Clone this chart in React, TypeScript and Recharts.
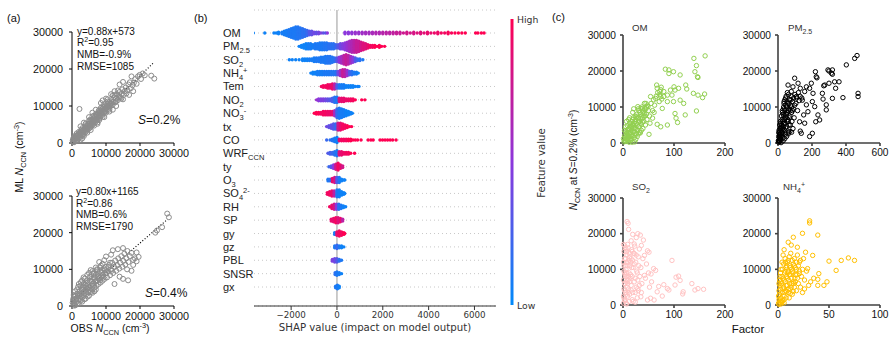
import React from 'react'
import { ScatterChart, Scatter, XAxis, YAxis, CartesianGrid, ReferenceLine } from 'recharts'

const ARIAL = '"Liberation Sans", Arial, sans-serif'
const DEJAVU = '"DejaVu Sans", sans-serif'

// ---------- (a) ML vs OBS N_CCN ----------
const statsS02 = ['y=0.88x+573', '0.95', 'NMB=-0.9%', 'RMSE=1085']
const statsS04 = ['y=0.80x+1165', '0.86', 'NMB=0.6%', 'RMSE=1790']
const fitS02: [number, number][] = [[0, 573], [24100, 21780]]
const fitS04: [number, number][] = [[0, 1165], [28000, 23565]]
const nccnTicks = [0, 10000, 20000, 30000]

const obsMlS02: [number, number][] = [
  [200, 600], [400, 300], [600, 900], [800, 1500], [900, 700], [1100, 1200], [1300, 1900], [1400, 800],
  [1600, 1500], [1800, 2300], [1900, 1200], [2100, 2000], [2300, 2800], [2400, 1600], [2600, 2400],
  [2800, 3100], [2900, 2000], [3100, 2700], [3300, 3600], [3400, 2300], [3600, 3200], [3800, 4100],
  [3900, 2900], [4100, 3700], [4300, 4600], [4400, 3300], [4600, 4200], [4800, 5100], [4900, 3800],
  [5100, 4700], [5300, 5600], [5400, 4200], [5600, 5100], [5800, 6100], [5900, 4700], [6100, 5600],
  [6300, 6600], [6400, 5200], [6600, 6100], [6800, 7100], [6900, 5700], [7100, 6500], [7300, 7600],
  [7400, 6100], [7600, 7000], [7800, 8100], [7900, 6600], [8100, 7500], [8300, 8600], [8400, 7100],
  [8600, 8000], [8800, 9100], [8900, 7600], [9100, 8400], [9300, 9600], [9400, 8100], [9600, 9000],
  [9800, 10000], [9900, 8600], [10200, 9400], [10400, 10500], [10600, 9200], [10800, 10000],
  [11000, 11000], [11300, 9900], [11500, 10600], [11700, 11600], [12000, 10400], [12200, 11200],
  [12400, 12300], [12700, 11000], [13000, 12000], [13200, 13200], [13500, 11600], [13800, 12700],
  [14000, 13800], [14300, 12300], [14600, 13200], [14800, 14500], [15200, 13000], [15500, 14000],
  [15800, 15000], [16000, 13400], [16300, 14300], [16600, 15800], [17000, 16400], [17300, 14800],
  [17800, 15600], [18200, 16300], [18600, 17300], [19000, 16000], [19400, 18000], [19900, 18400],
  [20300, 17300], [20800, 18800], [21400, 18300], [23300, 18200], [24200, 17400], [2200, 9200],
  [2500, 4500], [3500, 5500], [5000, 7000], [6000, 8200], [7000, 9000], [8500, 10800], [10000, 12000],
  [11500, 13200], [9000, 11500], [12500, 14000], [14000, 15800], [15000, 16500], [17500, 18000],
  [3000, 1200], [5500, 3500], [7500, 5200], [9500, 7000], [11000, 8500], [13000, 10000], [15000, 11800],
  [12000, 9000], [18000, 14000], [16800, 13000], [500, 1500], [1000, 2000], [1500, 600], [2000, 3000],
  [2500, 900], [3000, 4000], [3500, 1900], [4000, 5200], [4500, 2800], [5000, 6000], [5500, 4600],
  [6000, 7200], [6500, 4700], [7000, 7800], [7500, 5600], [8000, 8900], [8000, 6200], [8500, 9500],
  [9000, 7000], [9500, 10500], [10000, 8200], [10500, 11200], [11000, 9600], [12000, 12900],
  [13500, 14200], [14500, 12000],
]
const coreS02: [number, number][] = [
  [300, 1000], [700, 1200], [1200, 1600], [1700, 2100], [2200, 2400], [2700, 2900], [3200, 3300],
  [3700, 3700], [4200, 4200], [4700, 4600], [5200, 5200], [5700, 5500], [6200, 6000], [6700, 6500],
  [7200, 7000], [7700, 7400], [8200, 8000], [8700, 8400], [9200, 8900], [9700, 9300], [10200, 9800],
  [10700, 10200], [11200, 10500], [11700, 11000], [600, 200], [1400, 2600], [2000, 1500], [2800, 3600],
  [3300, 2500], [4000, 4800], [4600, 3600], [5300, 6300], [5800, 5000], [6500, 7400], [7000, 6200],
  [7800, 8600], [8300, 7200], [9000, 9900], [9500, 8400], [10500, 11800], [11000, 9000], [12500, 13000],
  [13000, 11200], [14000, 12500],
]

const obsMlS04: [number, number][] = [
  [200, 900], [400, 2000], [600, 500], [800, 1600], [1000, 2800], [1200, 1000], [1400, 2200], [1600, 3400],
  [1800, 1500], [2000, 2700], [2200, 4000], [2400, 1900], [2600, 3200], [2800, 4600], [3000, 2300],
  [3200, 3700], [3400, 5200], [3600, 2800], [3800, 4200], [4000, 5800], [4200, 3200], [4400, 4700],
  [4600, 6300], [4800, 3700], [5000, 5200], [5200, 6900], [5400, 4100], [5600, 5600], [5800, 7400],
  [6000, 4600], [6200, 6100], [6400, 7900], [6600, 5000], [6800, 6600], [7000, 8400], [7200, 5500],
  [7400, 7000], [7600, 8900], [7800, 6000], [8000, 7500], [8200, 9400], [8400, 6400], [8600, 8000],
  [8800, 9800], [9000, 6900], [9200, 8400], [9400, 10300], [9600, 7400], [9800, 8900], [10000, 10700],
  [10300, 7800], [10600, 9500], [10900, 11200], [11200, 8400], [11500, 10000], [11800, 11800],
  [12100, 9000], [12400, 10600], [12700, 12400], [13000, 9600], [13300, 11100], [13600, 13000],
  [13900, 10200], [14200, 11800], [14500, 13600], [14800, 10700], [15100, 12300], [15400, 14300],
  [15700, 11300], [16000, 13000], [16300, 15000], [16600, 12000], [17000, 13600], [17500, 14500],
  [18000, 12600], [18500, 13000], [19000, 14600], [19600, 13400], [15000, 7400], [16500, 7000],
  [12500, 6000], [18000, 11200], [17500, 9600], [16200, 10000], [14000, 8000], [19000, 12200],
  [24500, 20000], [25000, 20600], [26500, 21500], [28000, 25200], [28500, 24200], [2000, 6000],
  [3000, 7000], [4500, 8500], [5000, 9000], [6000, 9500], [7000, 10500], [8000, 12000], [9000, 11500],
  [10000, 13500], [11500, 14000], [12000, 15200], [13500, 15500], [15000, 15800], [5500, 9800],
  [3800, 7500], [500, 3000], [1500, 4500], [2500, 5500], [1000, 200], [2000, 700], [3000, 1200],
  [4000, 2000], [5000, 2800], [6000, 3600], [7000, 4500], [3500, 6200], [6500, 8800], [7500, 9800],
  [8500, 11000], [9500, 12500],
]
const coreS04: [number, number][] = [
  [300, 1500], [700, 2500], [1200, 1800], [1700, 3000], [2200, 3200], [2700, 2600], [3200, 4500],
  [3700, 3600], [4200, 5500], [4700, 5000], [5200, 4400], [5700, 6600], [6200, 5600], [6700, 7500],
  [7200, 6800], [7700, 8000], [8200, 7000], [8700, 9000], [9200, 7800], [9700, 9800], [10200, 9000],
  [10700, 10600], [11200, 11800], [11700, 9600], [900, 4000], [1800, 5200], [2600, 6500], [3400, 7800],
  [4300, 6800], [5300, 8000], [6300, 9000], [7300, 10000], [8300, 10500], [600, 100], [1600, 600],
  [2600, 1500], [3600, 1800], [4600, 2600], [5600, 3800], [6600, 4000],
]

// ---------- (b) SHAP summary ----------
const featureBase = ['OM', 'PM', 'SO', 'NH', 'Tem', 'NO', 'NO', 'tx', 'CO', 'WRF', 'ty', 'O', 'SO', 'RH', 'SP', 'gy', 'gz', 'PBL', 'SNSR', 'gx']
const featureSub = ['', '2.5', '2', '4', '', '2', '3', '', '', 'CCN', '', '3', '4', '', '', '', '', '', '', '']
const featureSup = ['', '', '', '+', '', '', '-', '', '', '', '', '', '2-', '', '', '', '', '', '', '']
const rowTicks = [0, 1, 2, 3, 4, 5, 6, 7, 8, 9, 10, 11, 12, 13, 14, 15, 16, 17, 18, 19]
const shapTicks = [-2000, 0, 2000, 4000, 6000]

// [shap value, dot count stacked, feature value 0..1]
const shapOM: [number, number, number][] = [
  [-3650, 1, 0.05], [-3150, 1, 0.05], [-2750, 1, 0.05], [-2650, 1, 0.05], [-2550, 2, 0.05], [-2400, 2, 0.08],
  [-2300, 3, 0.08], [-2200, 4, 0.08], [-2100, 5, 0.1], [-2000, 6, 0.1], [-1900, 7, 0.1], [-1800, 8, 0.1],
  [-1700, 8, 0.12], [-1600, 7, 0.12], [-1500, 6, 0.15], [-1400, 5, 0.15], [-1300, 4, 0.2], [-1200, 3, 0.3],
  [-1100, 3, 0.35], [-1000, 2, 0.4], [-900, 2, 0.35], [-800, 2, 0.4], [-700, 1, 0.45], [-600, 1, 0.35],
  [-500, 1, 0.3], [-420, 1, 0.5], [350, 2, 0.5], [500, 2, 0.5], [650, 2, 0.52], [800, 2, 0.55],
  [950, 2, 0.55], [1100, 2, 0.58], [1250, 2, 0.6], [1400, 2, 0.6], [1550, 2, 0.62], [1700, 2, 0.65],
  [1850, 2, 0.65], [2000, 2, 0.68], [2150, 2, 0.7], [2300, 2, 0.7], [2450, 2, 0.72], [2600, 2, 0.75],
  [2750, 2, 0.75], [2900, 1, 0.78], [3050, 2, 0.8], [3200, 1, 0.8], [3350, 2, 0.82], [3500, 1, 0.85],
  [3650, 2, 0.85], [3800, 1, 0.88], [3950, 2, 0.9], [4100, 1, 0.9], [4250, 1, 0.92], [4400, 2, 0.92],
  [4550, 1, 0.95], [4700, 1, 0.95], [4850, 2, 0.97], [5000, 1, 0.97], [5150, 1, 1], [5300, 1, 1],
  [5450, 1, 1], [5600, 1, 1], [6050, 1, 1], [6150, 1, 1], [6300, 1, 1], [6420, 1, 1],
]
const shapPM25: [number, number, number][] = [
  [-1650, 1, 0.05], [-1550, 2, 0.05], [-1450, 3, 0.05], [-1350, 4, 0.05], [-1250, 4, 0.08], [-1150, 4, 0.08],
  [-1050, 3, 0.08], [-950, 4, 0.1], [-850, 4, 0.1], [-750, 5, 0.1], [-650, 5, 0.1], [-550, 5, 0.12],
  [-450, 5, 0.12], [-350, 4, 0.15], [-250, 4, 0.15], [-150, 4, 0.15], [-50, 3, 0.2], [50, 3, 0.3],
  [150, 4, 0.4], [250, 4, 0.45], [350, 5, 0.5], [450, 6, 0.55], [550, 7, 0.6], [650, 8, 0.65],
  [750, 8, 0.7], [850, 8, 0.75], [950, 7, 0.75], [1050, 6, 0.8], [1150, 5, 0.85], [1250, 4, 0.85],
  [1350, 3, 0.9], [1450, 2, 0.95], [1550, 2, 0.95], [1650, 2, 1], [1750, 1, 1], [1850, 2, 1],
  [1950, 1, 1], [2080, 1, 1],
]
const shapSO2: [number, number, number][] = [
  [-2080, 1, 0.05], [-1950, 1, 0.05], [-1800, 1, 0.05], [-1650, 1, 0.05], [-1500, 2, 0.05], [-1400, 2, 0.05],
  [-1300, 2, 0.05], [-1200, 2, 0.08], [-1100, 2, 0.08], [-1000, 3, 0.08], [-900, 3, 0.1], [-800, 3, 0.1],
  [-700, 4, 0.1], [-600, 4, 0.1], [-500, 5, 0.1], [-400, 5, 0.12], [-300, 5, 0.12], [-200, 4, 0.12],
  [-100, 3, 0.15], [0, 3, 0.3], [100, 4, 0.5], [200, 5, 0.6], [300, 6, 0.7], [400, 7, 0.75],
  [500, 6, 0.7], [600, 5, 0.6], [700, 4, 0.5], [800, 3, 0.3], [900, 2, 0.2], [1000, 2, 0.15], [1130, 1, 0.1],
]
const shapNH4: [number, number, number][] = [
  [-1140, 1, 0.05], [-1050, 2, 0.05], [-950, 2, 0.05], [-850, 3, 0.08], [-750, 3, 0.08], [-650, 3, 0.08],
  [-550, 3, 0.1], [-450, 3, 0.1], [-350, 3, 0.1], [-250, 3, 0.12], [-150, 3, 0.12], [-50, 3, 0.15],
  [50, 3, 0.4], [150, 4, 0.6], [250, 5, 0.75], [350, 5, 0.7], [450, 4, 0.55], [550, 3, 0.3],
  [650, 3, 0.15], [750, 2, 0.1], [850, 2, 0.08], [930, 1, 0.05],
]
const shapTem: [number, number, number][] = [
  [-680, 1, 0.95], [-600, 2, 0.95], [-500, 2, 0.95], [-400, 3, 0.95], [-300, 3, 0.92], [-200, 4, 0.9],
  [-100, 4, 0.7], [0, 3, 0.3], [100, 3, 0.1], [200, 3, 0.08], [300, 3, 0.08], [400, 2, 0.05],
  [500, 2, 0.05], [600, 2, 0.05], [700, 2, 0.05], [800, 1, 0.05], [900, 1, 0.05], [960, 1, 0.05],
]
const shapNO2: [number, number, number][] = [
  [-890, 1, 0.55], [-800, 2, 0.5], [-700, 2, 0.45], [-600, 2, 0.45], [-500, 2, 0.4], [-400, 2, 0.35],
  [-300, 2, 0.3], [-200, 3, 0.25], [-100, 4, 0.15], [0, 4, 0.1], [100, 3, 0.85], [200, 3, 0.9],
  [300, 3, 0.9], [400, 2, 0.92], [500, 2, 0.92], [600, 2, 0.95], [700, 2, 0.95], [800, 1, 1],
  [1080, 1, 1], [1220, 1, 1],
]
const shapNO3: [number, number, number][] = [
  [-990, 1, 1], [-900, 2, 1], [-800, 2, 1], [-700, 2, 0.95], [-600, 3, 0.95], [-500, 3, 0.95],
  [-400, 3, 0.92], [-300, 3, 0.92], [-200, 3, 0.9], [-100, 4, 0.6], [0, 6, 0.2], [100, 7, 0.1],
  [200, 6, 0.08], [300, 5, 0.08], [400, 4, 0.05], [500, 3, 0.05], [600, 2, 0.05], [670, 1, 0.05],
]
const shapTx: [number, number, number][] = [
  [-450, 1, 0.4], [-350, 2, 0.35], [-250, 3, 0.35], [-150, 4, 0.3], [-50, 4, 0.2], [50, 5, 0.8],
  [150, 5, 0.9], [250, 4, 0.95], [350, 3, 0.95], [450, 2, 1], [550, 1, 1], [640, 1, 1],
]
const shapCO: [number, number, number][] = [
  [-450, 1, 0.2], [-300, 1, 0.15], [-200, 2, 0.12], [-100, 3, 0.1], [0, 4, 0.05], [100, 2, 0.9],
  [200, 2, 0.95], [300, 2, 0.95], [400, 2, 0.95], [500, 2, 1], [600, 2, 1], [700, 1, 1], [800, 1, 1],
  [900, 1, 1], [1050, 1, 1], [1360, 1, 1], [1480, 1, 1], [1580, 1, 1], [1880, 1, 1], [1990, 1, 1],
  [2100, 1, 1], [2210, 1, 1], [2320, 1, 1], [2430, 1, 1], [2580, 1, 1],
]
const shapWRF: [number, number, number][] = [
  [-390, 1, 0.3], [-300, 2, 0.25], [-200, 2, 0.2], [-100, 3, 0.15], [0, 4, 0.1], [100, 3, 0.85],
  [200, 3, 0.9], [300, 2, 0.92], [400, 2, 0.95], [500, 2, 0.95], [600, 1, 1], [770, 1, 1],
]
const shapTy: [number, number, number][] = [
  [-350, 1, 0.2], [-250, 2, 0.3], [-150, 3, 0.5], [-50, 4, 0.8], [50, 5, 0.95], [150, 3, 0.9], [250, 2, 0.8],
]
const shapO3: [number, number, number][] = [
  [-390, 2, 0.1], [-300, 2, 0.15], [-200, 3, 0.9], [-100, 4, 0.8], [0, 4, 0.3], [100, 4, 0.1],
  [200, 2, 0.05], [300, 1, 0.05], [340, 1, 0.05],
]
const shapSO4: [number, number, number][] = [
  [-420, 2, 0.95], [-320, 3, 0.95], [-220, 4, 0.9], [-120, 4, 0.7], [0, 5, 0.1], [100, 5, 0.05],
  [200, 3, 0.05], [300, 2, 0.05], [340, 1, 0.05],
]
const shapRH: [number, number, number][] = [
  [-320, 1, 0.95], [-220, 3, 0.9], [-120, 4, 0.8], [-20, 4, 0.5], [80, 4, 0.15], [180, 3, 0.1],
  [280, 2, 0.05], [380, 1, 0.05],
]
const shapSP: [number, number, number][] = [
  [-250, 2, 0.9], [-150, 3, 0.9], [-50, 4, 0.95], [50, 4, 0.85], [150, 3, 0.9], [250, 2, 0.7],
]
const shapGy: [number, number, number][] = [
  [-100, 2, 0.1], [0, 3, 0.9], [100, 4, 0.95], [200, 3, 0.95], [300, 2, 1], [340, 1, 1],
]
const shapGz: [number, number, number][] = [
  [-100, 2, 0.1], [0, 3, 0.2], [100, 2, 0.1], [200, 2, 0.05], [300, 1, 0.05],
]
const shapPBL: [number, number, number][] = [
  [-200, 2, 0.45], [-100, 3, 0.4], [0, 3, 0.3], [100, 2, 0.15], [200, 1, 0.1],
]
const shapSNSR: [number, number, number][] = [[-80, 2, 0.15], [0, 3, 0.1], [100, 2, 0.08], [200, 1, 0.05]]
const shapGx: [number, number, number][] = [[-60, 2, 0.1], [20, 3, 0.1], [100, 2, 0.05]]

const shapRows = [
  shapOM, shapPM25, shapSO2, shapNH4, shapTem, shapNO2, shapNO3, shapTx, shapCO, shapWRF,
  shapTy, shapO3, shapSO4, shapRH, shapSP, shapGy, shapGz, shapPBL, shapSNSR, shapGx,
]

// ---------- (c) N_CCN vs factors ----------
const omPts: [number, number][] = [
  [139, 23500], [161, 24200], [144, 21500], [141, 19800], [146, 18400], [147, 18200], [83, 20500],
  [90, 20300], [99, 19800], [90, 19300], [112, 18900], [100, 15600], [123, 16100], [125, 15000],
  [109, 15200], [138, 13800], [147, 13300], [160, 13600], [156, 12600], [144, 8900], [122, 7800],
  [107, 5700], [104, 6900], [87, 5000], [67, 5200], [74, 4500], [51, 2400], [66, 16100], [67, 15200],
  [72, 14300], [74, 12900], [76, 12200], [71, 11500], [80, 14300], [80, 12900], [93, 14700],
  [102, 14700], [96, 13300], [87, 13300], [87, 11500], [99, 11500], [112, 11900], [119, 11000],
  [102, 8200], [77, 9600], [61, 8500], [58, 6900], [64, 12400], [54, 12900], [49, 10100], [45, 11000],
  [35, 9600], [29, 10100], [26, 7300], [19, 5000], [2, 300], [4, 800], [5, 1500], [6, 400], [8, 2200],
  [8, 1000], [10, 3000], [10, 600], [12, 1800], [12, 4000], [14, 2600], [14, 1200], [15, 5000],
  [16, 3400], [17, 6000], [18, 2000], [18, 4500], [20, 3000], [20, 7000], [22, 5500], [22, 1500],
  [24, 4000], [25, 6500], [26, 2500], [27, 8000], [28, 5000], [29, 3500], [30, 7000], [31, 9000],
  [32, 4500], [33, 6000], [34, 2800], [35, 8000], [36, 5200], [37, 10000], [38, 7000], [39, 4000],
  [40, 9000], [41, 6000], [42, 11000], [43, 7500], [44, 5000], [45, 9500], [46, 8000], [47, 6500],
  [48, 10500], [50, 9000], [3, 2000], [6, 3200], [9, 4800], [11, 6500], [13, 7000], [15, 800],
  [19, 8500], [21, 9500], [23, 300], [25, 1000], [28, 1800], [30, 2500], [33, 3000], [36, 3500],
  [38, 9500], [12, 200], [18, 200], [7, 6000], [52, 7500], [55, 11000], [58, 9000], [60, 12000],
  [62, 10500], [65, 13000], [68, 14000], [72, 13500], [74, 14800], [75, 15500], [53, 5500],
]
const omCore: [number, number][] = [
  [1, 1200], [3, 3500], [5, 4500], [7, 2800], [9, 1500], [11, 3800], [13, 5500], [15, 3000], [17, 4500],
  [19, 6500], [21, 4000], [23, 6000], [24, 7500], [26, 5500], [28, 7000], [30, 4500], [31, 6000],
  [33, 8500], [35, 5500], [37, 7500], [39, 8500], [41, 7500], [43, 9500], [3, 700], [6, 1800], [9, 3500],
  [12, 2800], [16, 1800], [20, 5000], [24, 2500], [27, 3800], [30, 9500], [34, 6800], [38, 5800],
  [42, 8200], [46, 10000], [11, 1000], [14, 4500], [17, 1200], [22, 3200],
]
const pm25Pts: [number, number][] = [
  [451, 23500], [465, 24300], [402, 21700], [320, 20300], [300, 20000], [314, 19400], [320, 19100],
  [294, 20300], [220, 19800], [225, 18400], [229, 18100], [333, 17000], [359, 17000], [275, 16100],
  [269, 15900], [300, 16600], [339, 15200], [471, 13800], [471, 12900], [382, 12600], [261, 13800],
  [265, 12200], [284, 10600], [284, 9200], [320, 12400], [186, 15200], [196, 16600], [167, 15600],
  [206, 13800], [202, 11500], [216, 10100], [235, 7800], [222, 5900], [245, 6400], [202, 2700],
  [186, 1800], [131, 3300], [137, 2700], [118, 16600], [131, 15200], [98, 18000], [88, 15600],
  [59, 16100], [78, 14300], [157, 14300], [108, 12900], [143, 11900], [167, 10600], [176, 8700],
  [151, 7800], [127, 5900], [157, 5500], [3, 200], [5, 800], [8, 1500], [10, 400], [12, 2500],
  [15, 1000], [18, 3500], [20, 2000], [22, 5000], [25, 3000], [28, 6000], [30, 1500], [32, 4500],
  [35, 7500], [38, 3500], [40, 9000], [42, 5500], [45, 2500], [48, 7000], [50, 10000], [52, 4500],
  [55, 8500], [58, 11000], [60, 6000], [62, 3000], [65, 9500], [68, 12000], [70, 7500], [72, 5000],
  [75, 10500], [78, 13000], [80, 8500], [82, 6000], [85, 11500], [88, 4000], [90, 9500], [92, 12500],
  [95, 7000], [98, 10500], [100, 13500], [105, 11000], [110, 12500], [115, 9000], [120, 14000],
  [125, 11800], [130, 13000], [140, 12500], [14, 6000], [20, 7500], [26, 8500], [33, 10000],
  [36, 11500], [45, 12500], [55, 14000], [62, 13500], [18, 100], [30, 600], [40, 1200], [50, 1800],
  [60, 2500], [70, 3200], [80, 3000], [6, 3500], [10, 5000], [16, 4200],
]
const pm25Core: [number, number][] = [
  [2, 600], [4, 1800], [7, 3000], [9, 2200], [12, 4000], [15, 5500], [17, 2500], [20, 4500], [24, 6500],
  [27, 4000], [30, 8000], [33, 5500], [36, 9500], [39, 6500], [42, 8000], [46, 10500], [50, 8000],
  [53, 11500], [57, 6500], [60, 9000], [64, 11000], [67, 7000], [72, 9000], [76, 12000], [80, 10000],
  [85, 9000], [8, 600], [14, 1800], [22, 2800], [28, 2500], [34, 3800], [44, 4200], [54, 6000],
  [65, 5000], [25, 9000], [35, 11000], [40, 12000], [48, 13000], [5, 2800], [10, 1200],
]
const so2Pts: [number, number][] = [
  [8, 23400], [10, 22900], [11, 21200], [29, 20000], [34, 19600], [19, 19800], [26, 18900], [40, 18200],
  [16, 18000], [22, 17100], [36, 16700], [3, 16700], [6, 15700], [48, 15200], [51, 14800], [32, 15700],
  [42, 13900], [22, 14400], [13, 13500], [96, 12500], [60, 10200], [64, 9700], [55, 8700], [42, 8300],
  [109, 8100], [104, 7800], [135, 6000], [147, 4600], [158, 4400], [141, 4200], [112, 6900],
  [102, 5600], [118, 3700], [117, 3100], [80, 5700], [87, 4600], [90, 4200], [70, 5200], [67, 3700],
  [77, 2500], [54, 1900], [48, 1400], [61, 1400], [35, 2300], [29, 4600], [16, 4200], [1, 500],
  [2, 2000], [3, 4000], [4, 6000], [5, 8000], [6, 10000], [7, 12000], [8, 14000], [2, 15000],
  [4, 1200], [6, 3000], [8, 5000], [10, 7000], [12, 9000], [14, 11000], [16, 13000], [18, 15000],
  [3, 9000], [5, 11000], [7, 300], [9, 2500], [11, 4500], [13, 6500], [15, 8500], [17, 10500],
  [19, 12500], [21, 14500], [23, 16500], [25, 12000], [27, 9500], [29, 7000], [31, 11000], [33, 8000],
  [35, 10500], [37, 6000], [39, 13000], [20, 1000], [24, 3500], [28, 2000], [32, 5500], [36, 3500],
  [22, 6500], [26, 5000], [30, 13500], [10, 16000], [12, 12500], [44, 7500], [46, 11500], [50, 9000],
  [52, 5000], [56, 6500], [1, 17000], [2, 11000],
]
const so2Core: [number, number][] = [
  [1, 2500], [1, 7000], [1, 12000], [2, 4500], [2, 9500], [3, 13000], [3, 1500], [4, 8500], [4, 16000],
  [5, 3500], [5, 13000], [6, 6500], [7, 9000], [7, 15000], [8, 11000], [9, 6000], [9, 17000], [10, 3500],
  [10, 12000], [11, 8000], [12, 14500], [13, 3000], [14, 7500], [15, 12000], [16, 5500], [17, 15500],
  [18, 8000], [19, 3500], [20, 10500], [22, 11500], [24, 7500], [26, 14000], [28, 9000], [30, 4000],
  [6, 500], [12, 1000], [18, 1500], [24, 800], [3, 6000], [8, 8000],
]
const nh4Pts: [number, number][] = [
  [31, 23600], [31, 23000], [39, 19600], [24, 20100], [15, 19000], [50, 12300], [62, 12500], [69, 13200],
  [75, 12500], [57, 9700], [48, 6500], [45, 5500], [39, 5500], [40, 8800], [39, 7200], [29, 10200],
  [34, 13900], [27, 14800], [21, 12000], [21, 8800], [15, 6000], [12, 3200], [19, 16200], [10, 17600],
  [13, 16800], [0.5, 500], [1, 1500], [1.5, 3000], [2, 800], [2.5, 4500], [3, 2000], [3.5, 6000],
  [4, 3500], [4.5, 1200], [5, 7500], [5.5, 5000], [6, 2500], [6.5, 9000], [7, 6500], [7.5, 4000],
  [8, 10500], [8.5, 8000], [9, 5500], [9.5, 12000], [10, 9500], [10.5, 7000], [11, 13500],
  [11.5, 11000], [12, 8500], [12.5, 14500], [13, 10000], [13.5, 6000], [14, 12500], [14.5, 9000],
  [15, 11500], [16, 13000], [16.5, 7500], [17, 10500], [18, 12000], [18.5, 8500], [19, 14000],
  [20, 11000], [21, 9500], [22, 12500], [23, 8000], [24, 10000], [25, 13000], [26, 7000], [28, 9500],
  [1, 6000], [2, 8000], [3, 10000], [4, 12000], [5, 14000], [6, 15500], [7, 13000], [8, 2000],
  [10, 3500], [12, 4500], [14, 3000], [16, 5000], [18, 4000], [20, 6000], [22, 5000], [24, 3500],
  [26, 4500], [30, 5500], [32, 6500], [35, 7500], [3, 300], [6, 600],
]
const nh4Core: [number, number][] = [
  [0.5, 2500], [1, 4000], [1.5, 7000], [2, 5500], [2.5, 9000], [3, 6500], [3.5, 1000], [4, 8000],
  [4.5, 10000], [5, 4500], [5.5, 11500], [6, 7000], [6.5, 3500], [7, 9500], [7.5, 12000], [8, 5500],
  [8.5, 11000], [9, 7500], [9.5, 9000], [10, 12500], [10.5, 4500], [11, 8500], [11.5, 6000], [12, 10500],
  [13, 7500], [14, 9500], [15, 6500], [16, 11000], [17, 8500], [18, 10000], [1, 200], [2, 1800],
  [4, 800], [6, 1500], [8, 3800], [11, 2000], [13, 5000], [15, 3800], [17, 6500], [19, 7500],
]

// ---------- helpers ----------
const cmapStops: [number, number, number][] = [[0, 138, 250], [140, 55, 220], [255, 0, 82]]
function shapColor(t: number) {
  const s = t < 0.5 ? 0 : 1
  const f = t < 0.5 ? t / 0.5 : (t - 0.5) / 0.5
  const a = cmapStops[s]
  const b = cmapStops[s + 1]
  const c = a.map((v, i) => Math.round(v + (b[i] - v) * f))
  return `rgb(${c[0]},${c[1]},${c[2]})`
}

const swarmData = shapRows.flatMap((row, i) => row.map(([x, n, c]) => ({ x, y: i, n, c })))

function SwarmDot(props: any) {
  const { cx, cy } = props
  const p = props.payload ?? props
  const col = shapColor(p.c)
  const dots = []
  for (let k = 0; k < p.n; k++) {
    dots.push(<circle key={k} cx={cx} cy={cy + (k - (p.n - 1) / 2) * 1.7} r={1.7} fill={col} />)
  }
  return <g>{dots}</g>
}

function FeatureTick(props: any) {
  const i = props.payload.value
  const sub = featureSub[i]
  const sup = featureSup[i]
  return (
    <text x={33} y={props.y + 4} fontSize={11} fontFamily={ARIAL} fill="#222">
      {featureBase[i]}
      {sub && <tspan fontSize={7.5} dy={3}>{sub}</tspan>}
      {sup && <tspan fontSize={7.5} dy={sub ? -7.5 : -4}>{sup}</tspan>}
    </text>
  )
}

const ring = (color: string, r: number) => (props: any) => (
  <circle cx={props.cx} cy={props.cy} r={r} fill="none" stroke={color} strokeWidth={1} />
)

interface PanelProps {
  x0: number; x1: number; y0: number; y1: number
  xMax: number; xTicks: number[]
  pts: [number, number][]
  color: string; r: number
  axisColor: string; axisWidth: number
  fontSize: number; labelGap: number
  fit?: [number, number][]
}

function XYPanel({ x0, x1, y0, y1, xMax, xTicks, pts, color, r, axisColor, axisWidth, fontSize, labelGap, fit }: PanelProps) {
  const right = 20
  const tick = { fontSize, fontFamily: ARIAL, fill: '#111' }
  return (
    <div style={{ position: 'absolute', left: x0 - 40, top: y0 - 8 }}>
      <ScatterChart width={x1 - x0 + 40 + right} height={y1 - y0 + 8 + 24} margin={{ top: 8, right, left: 0, bottom: 0 }}>
        <XAxis type="number" dataKey="x" domain={[0, xMax]} ticks={xTicks} interval={0} height={24}
          tickSize={3} tickMargin={3} stroke={axisColor} strokeWidth={axisWidth} tick={tick} />
        <YAxis type="number" dataKey="y" domain={[0, 30000]} ticks={nccnTicks} interval={0} width={40}
          tickSize={3} tickMargin={labelGap} stroke={axisColor} strokeWidth={axisWidth} tick={tick} />
        <Scatter data={pts.map(([x, y]) => ({ x, y }))} shape={ring(color, r)} isAnimationActive={false} />
        {fit && (
          <ReferenceLine segment={fit.map(([x, y]) => ({ x, y }))} stroke="#000" strokeWidth={1.2} strokeDasharray="1 2" />
        )}
      </ScatterChart>
    </div>
  )
}

function Stats({ x, y, lines }: { x: number; y: number; lines: string[] }) {
  return (
    <text x={x} y={y} fontSize={10} fontFamily={ARIAL} fill="#111">
      <tspan x={x} y={y}>{lines[0]}</tspan>
      <tspan x={x} y={y + 11.7}>R</tspan>
      <tspan fontSize={7} dy={-4}>2</tspan>
      <tspan dy={4}>={lines[1]}</tspan>
      <tspan x={x} y={y + 23.4}>{lines[2]}</tspan>
      <tspan x={x} y={y + 35.1}>{lines[3]}</tspan>
    </text>
  )
}

function Ncc() {
  return (
    <>
      <tspan fontStyle="italic">N</tspan>
      <tspan fontSize="0.7em" dy={2.5}>CCN</tspan>
      <tspan dy={-2.5}> </tspan>
    </>
  )
}

export default function App() {
  return (
    <div style={{ position: 'absolute', left: 0, top: 0, width: 889, height: 340, background: '#fff', overflow: 'hidden' }}>
      <XYPanel x0={72} x1={174} y0={32} y1={143} xMax={30000} xTicks={nccnTicks} pts={[...obsMlS02, ...coreS02]}
        color="#8c8c8c" r={2.5} axisColor="#000" axisWidth={1} fontSize={10.8} labelGap={6} fit={fitS02} />
      <XYPanel x0={72} x1={174} y0={196} y1={306} xMax={30000} xTicks={nccnTicks} pts={[...obsMlS04, ...coreS04]}
        color="#8c8c8c" r={2.5} axisColor="#000" axisWidth={1} fontSize={10.8} labelGap={6} fit={fitS04} />

      <div style={{ position: 'absolute', left: 190, top: 0 }}>
        <ScatterChart width={310} height={336} margin={{ top: 10, right: 4, left: 0, bottom: 0 }}>
          <CartesianGrid vertical={false} strokeDasharray="1 3" stroke="#c8c8c8" />
          <XAxis type="number" dataKey="x" domain={[-3620, 6940]} ticks={shapTicks} interval={0} height={30}
            allowDataOverflow tickSize={4} tickMargin={2} stroke="#333"
            tickFormatter={(v: number) => (v < 0 ? '\u2212' + Math.abs(v) : String(v))}
            tick={{ fontSize: 8.7, fontFamily: DEJAVU, fill: '#333' }} />
          <YAxis type="number" dataKey="y" domain={[-1.72, 20.42]} ticks={rowTicks} interval={0} reversed
            allowDataOverflow width={64} axisLine={false} tickLine={false} tick={(p: any) => <FeatureTick {...p} />} />
          <ReferenceLine x={0} stroke="#999" strokeWidth={1} />
          <Scatter data={swarmData} shape={SwarmDot} isAnimationActive={false} />
        </ScatterChart>
      </div>

      <XYPanel x0={623} x1={725} y0={35} y1={143} xMax={200} xTicks={[0, 100, 200]} pts={[...omPts, ...omCore]}
        color="#92d050" r={2.2} axisColor="#404040" axisWidth={1.6} fontSize={10.2} labelGap={4} />
      <XYPanel x0={778} x1={880} y0={35} y1={143} xMax={600} xTicks={[0, 200, 400, 600]} pts={[...pm25Pts, ...pm25Core]}
        color="#000" r={2.2} axisColor="#404040" axisWidth={1.6} fontSize={10.2} labelGap={4} />
      <XYPanel x0={623} x1={725} y0={198} y1={305} xMax={200} xTicks={[0, 100, 200]} pts={[...so2Pts, ...so2Core]}
        color="#ffc3c3" r={2.2} axisColor="#404040" axisWidth={1.6} fontSize={10.2} labelGap={4} />
      <XYPanel x0={778} x1={880} y0={198} y1={305} xMax={100} xTicks={[0, 50, 100]} pts={[...nh4Pts, ...nh4Core]}
        color="#ffc000" r={2.2} axisColor="#404040" axisWidth={1.6} fontSize={10.2} labelGap={4} />

      <svg width={889} height={340} style={{ position: 'absolute', left: 0, top: 0, pointerEvents: 'none' }}>
        <defs>
          <linearGradient id="cbar" x1="0" y1="0" x2="0" y2="1">
            <stop offset="0" stopColor="rgb(255,0,82)" />
            <stop offset="0.5" stopColor="rgb(140,55,220)" />
            <stop offset="1" stopColor="rgb(0,138,250)" />
          </linearGradient>
        </defs>
        <g fontFamily={ARIAL} fill="#111">
          <text x={7} y={22} fontSize={11}>(a)</text>
          <text x={194} y={22} fontSize={11}>(b)</text>
          <text x={552} y={21} fontSize={11}>(c)</text>

          <Stats x={77} y={34.5} lines={statsS02} />
          <Stats x={76} y={195} lines={statsS04} />
          <text x={138} y={124} fontSize={12}><tspan fontStyle="italic">S</tspan>=0.2%</text>
          <text x={145} y={297} fontSize={12}><tspan fontStyle="italic">S</tspan>=0.4%</text>

          <text transform="translate(23,157) rotate(-90)" textAnchor="middle" fontSize={10.5}>
            ML <Ncc />(cm<tspan fontSize="0.7em" dy={-4}>-3</tspan><tspan dy={4}>)</tspan>
          </text>
          <text x={110} y={332} textAnchor="middle" fontSize={10.5}>
            OBS <Ncc />(cm<tspan fontSize="0.7em" dy={-4}>-3</tspan><tspan dy={4}>)</tspan>
          </text>

          <text x={632} y={31} fontSize={9.7} fill="#333">OM</text>
          <text x={788} y={31} fontSize={9.7} fill="#333">PM<tspan fontSize={7} dy={2.5}>2.5</tspan></text>
          <text x={632} y={190} fontSize={9.7} fill="#333">SO<tspan fontSize={7} dy={2.5}>2</tspan></text>
          <text x={783} y={190} fontSize={9.7} fill="#333">NH<tspan fontSize={7} dy={2.5}>4</tspan><tspan fontSize={7} dy={-6}>+</tspan></text>
          <text x={748} y={333} textAnchor="middle" fontSize={11.5}>Factor</text>
          <text transform="translate(577,160) rotate(-90)" textAnchor="middle" fontSize={10}>
            <Ncc />at <tspan fontStyle="italic">S</tspan>=0.2% (cm<tspan fontSize="0.7em" dy={-4}>-3</tspan><tspan dy={4}>)</tspan>
          </text>
        </g>
        <g fontFamily={DEJAVU} fill="#333">
          <text x={375} y={331} textAnchor="middle" fontSize={10.2}>SHAP value (impact on model output)</text>
          <rect x={510.5} y={19} width={3} height={286} fill="url(#cbar)" />
          <text x={517} y={23} fontSize={9.3}>High</text>
          <text x={517} y={309} fontSize={9.3}>Low</text>
          <text transform="translate(545,163) rotate(-90)" textAnchor="middle" fontSize={10.2}>Feature value</text>
        </g>
      </svg>
    </div>
  )
}
